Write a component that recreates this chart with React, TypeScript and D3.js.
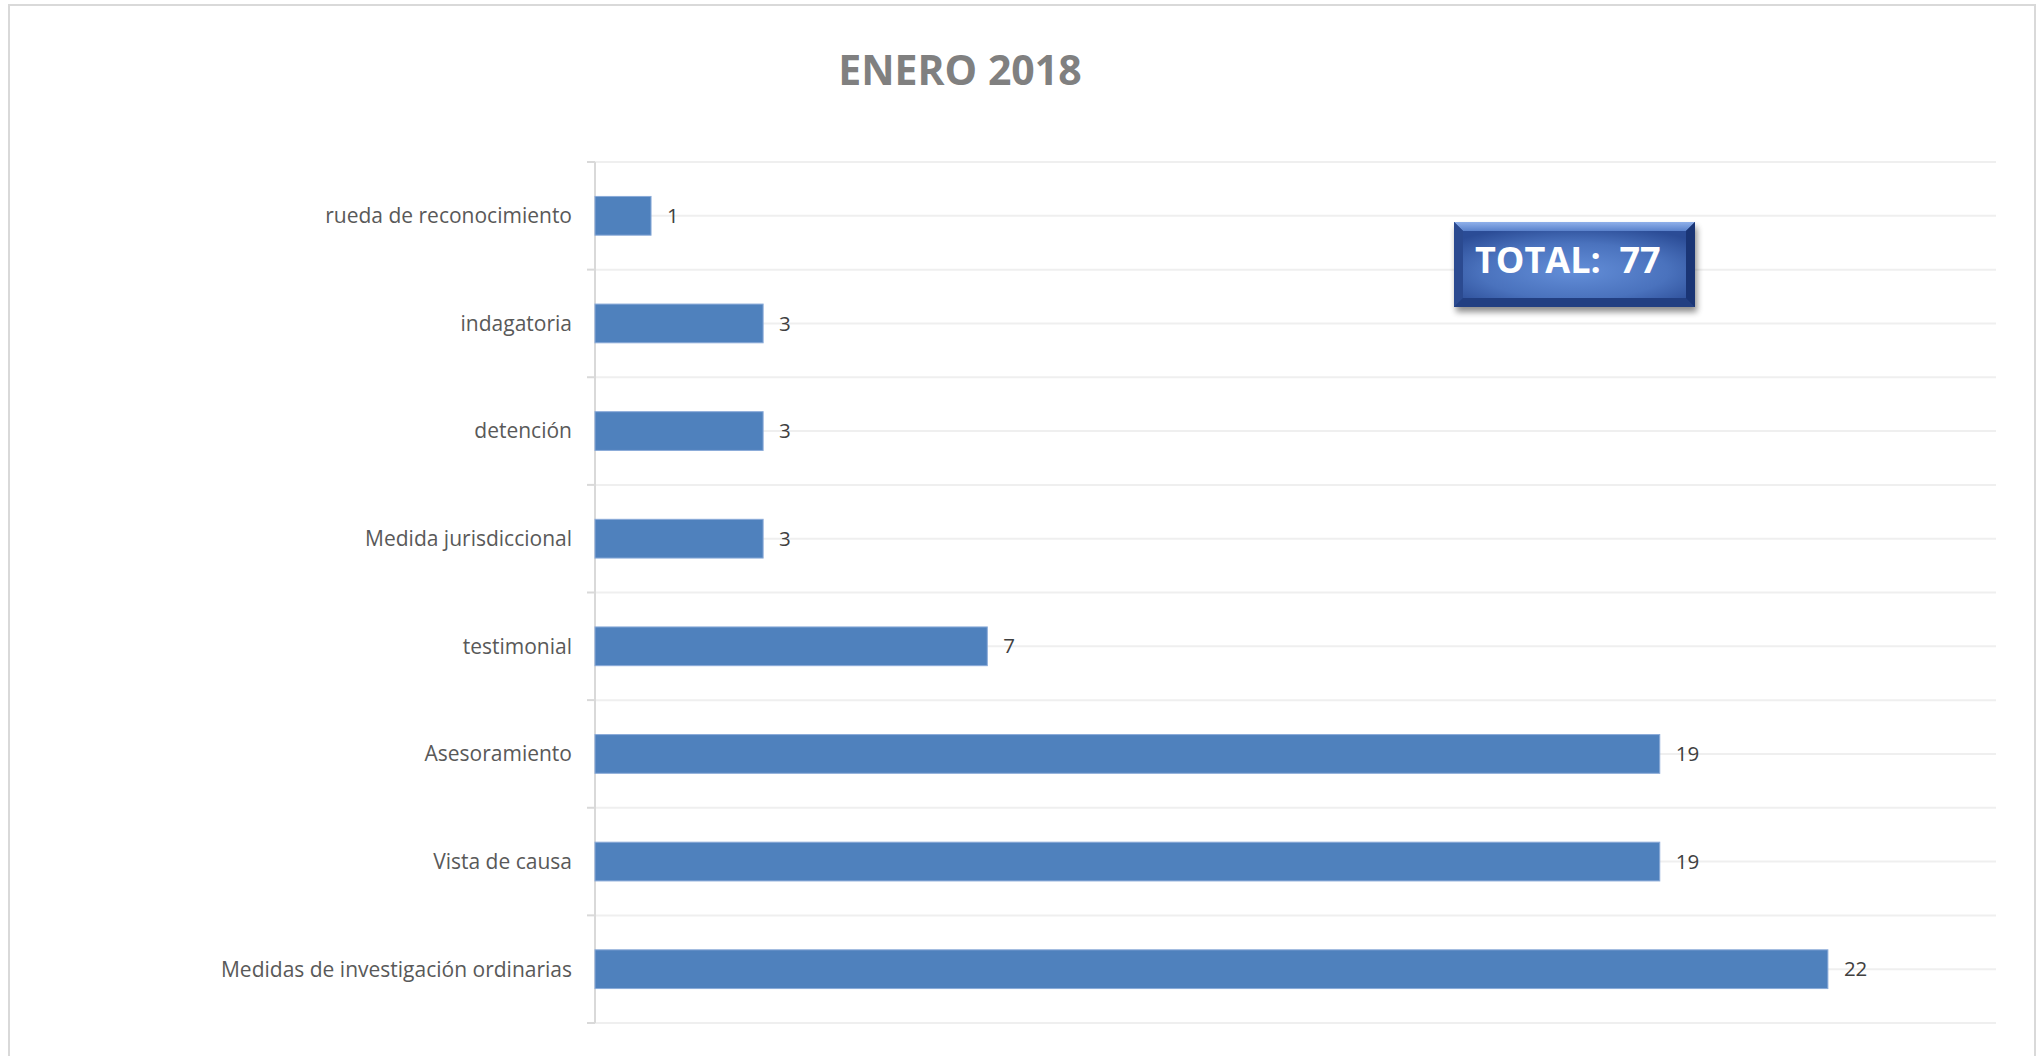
import React from "react";
import * as d3 from "d3";

const categories = [
  "rueda de reconocimiento",
  "indagatoria",
  "detención",
  "Medida jurisdiccional",
  "testimonial",
  "Asesoramiento",
  "Vista de causa",
  "Medidas de investigación ordinarias",
];
const values = [1, 3, 3, 3, 7, 19, 19, 22];
const title = "ENERO 2018";
const totalLabel = "TOTAL:  77";

const W = 2038;
const H = 1056;
const margin = { top: 162, right: 42, bottom: 33, left: 595 };
const font = "'Open Sans', 'Noto Sans', sans-serif";

export default function App() {
  const x = d3.scaleLinear().domain([0, 25]).range([margin.left, W - margin.right]);
  const y = d3
    .scaleBand<string>()
    .domain(categories)
    .range([margin.top, H - margin.bottom])
    .paddingInner(0.64)
    .paddingOuter(0.32);

  const step = y.step();
  // gridlines at each band edge and band centre
  const gridYs: number[] = [];
  categories.forEach((c) => {
    const s = (y(c) as number) - step * 0.32;
    gridYs.push(s, s + step / 2);
  });
  gridYs.push(H - margin.bottom);
  const tickYs = categories.map((c) => (y(c) as number) - step * 0.32).concat([H - margin.bottom]);

  return (
    <svg
      width={W}
      height={H}
      style={{ position: "absolute", left: 0, top: 0, background: "#fff" }}
    >
      <defs>
        <radialGradient id="boxFill" cx="0.5" cy="0.6" r="0.7">
          <stop offset="0" stopColor="#638ed8" />
          <stop offset="0.6" stopColor="#4a72bd" />
          <stop offset="1" stopColor="#2b4c96" />
        </radialGradient>
        <linearGradient id="bevelTop" x1="0" y1="0" x2="0" y2="1">
          <stop offset="0" stopColor="#8fb0ea" />
          <stop offset="1" stopColor="#5a82cc" />
        </linearGradient>
        <filter id="shadow" x="-20%" y="-20%" width="140%" height="160%">
          <feGaussianBlur in="SourceAlpha" stdDeviation="3" />
          <feOffset dx="2" dy="5" result="b" />
          <feComponentTransfer>
            <feFuncA type="linear" slope="0.45" />
          </feComponentTransfer>
          <feMerge>
            <feMergeNode />
            <feMergeNode in="SourceGraphic" />
          </feMerge>
        </filter>
      </defs>

      <rect x={9} y={5} width={2026} height={1060} fill="#fff" stroke="#d9d9d9" strokeWidth={2} />

      <text
        x={960}
        y={85}
        textAnchor="middle"
        fontFamily={font}
        fontWeight={700}
        fontSize={41}
        fill="#808080"
      >
        {title}
      </text>

      {gridYs.map((gy, i) => (
        <line key={i} x1={margin.left} x2={W - margin.right} y1={gy} y2={gy} stroke="#efefef" strokeWidth={2} />
      ))}
      {tickYs.map((ty, i) => (
        <line key={"t" + i} x1={margin.left - 8} x2={margin.left} y1={ty} y2={ty} stroke="#d9d9d9" strokeWidth={2} />
      ))}
      <line
        x1={margin.left}
        x2={margin.left}
        y1={margin.top}
        y2={H - margin.bottom}
        stroke="#d9d9d9"
        strokeWidth={2}
      />

      {categories.map((c, i) => (
        <g key={c}>
          <rect
            x={x(0)}
            y={y(c)}
            width={x(values[i]) - x(0)}
            height={y.bandwidth()}
            fill="#4f81bd"
            stroke="#8aaad8"
            strokeWidth={1}
          />
          <text
            x={x(values[i]) + 16}
            y={(y(c) as number) + y.bandwidth() / 2}
            dy="0.35em"
            fontFamily={font}
            fontSize={20.5}
            fill="#404040"
          >
            {values[i]}
          </text>
          <text
            x={margin.left - 23}
            y={(y(c) as number) + y.bandwidth() / 2}
            dy="0.35em"
            textAnchor="end"
            fontFamily={font}
            fontSize={21}
            fill="#595959"
          >
            {c}
          </text>
        </g>
      ))}

      <g filter="url(#shadow)">
        <rect x={1454} y={222} width={241} height={85} fill="#1d3a7e" />
      </g>
      <polygon points="1454,222 1695,222 1686,231 1463,231" fill="url(#bevelTop)" />
      <polygon points="1454,307 1695,307 1686,298 1463,298" fill="#223f82" />
      <polygon points="1454,222 1463,231 1463,298 1454,307" fill="#2b4a90" />
      <polygon points="1695,222 1686,231 1686,298 1695,307" fill="#1a3575" />
      <rect x={1463} y={231} width={223} height={67} fill="url(#boxFill)" />
      <text
        x={1475}
        y={273}
        fontFamily={font}
        fontWeight={700}
        fontSize={36}
        fill="#ffffff"
        style={{ whiteSpace: "pre" }}
      >
        {totalLabel}
      </text>
    </svg>
  );
}
